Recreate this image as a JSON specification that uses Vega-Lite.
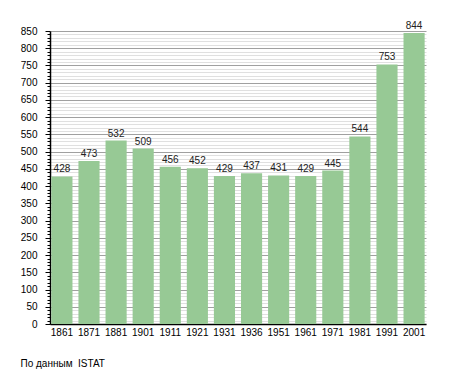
{
  "$schema": "https://vega.github.io/schema/vega-lite/v6.json",
  "autosize": "none",
  "width": 376,
  "height": 293,
  "padding": {"left": 50, "top": 31, "right": 29, "bottom": 49},
  "background": "white",
  "config": {"view": {"stroke": null}, "font": "Liberation Sans"},
  "data": {"values": [
    {"year": "1861", "pop": 428},
    {"year": "1871", "pop": 473},
    {"year": "1881", "pop": 532},
    {"year": "1901", "pop": 509},
    {"year": "1911", "pop": 456},
    {"year": "1921", "pop": 452},
    {"year": "1931", "pop": 429},
    {"year": "1936", "pop": 437},
    {"year": "1951", "pop": 431},
    {"year": "1961", "pop": 429},
    {"year": "1971", "pop": 445},
    {"year": "1981", "pop": 544},
    {"year": "1991", "pop": 753},
    {"year": "2001", "pop": 844}
  ]},
  "encoding": {
    "x": {"field": "year", "type": "ordinal", "sort": null,
      "scale": {"paddingInner": 0.22, "paddingOuter": 0.05},
      "axis": {"title": "По данным\u00a0 ISTAT", "titleAnchor": "start", "titleAlign": "left", "titleX": -30, "titleY": 34, "titleBaseline": "top", "titleFontSize": 10, "titleFontWeight": "normal", "titleColor": "#000", "titleFont": "Liberation Sans",
        "labelAngle": 0, "labelFontSize": 10, "labelColor": "#000", "labelPadding": 3, "ticks": false, "domainColor": "#000", "domainWidth": 1.5, "labelFont": "Liberation Sans"}},
    "y": {"field": "pop", "type": "quantitative",
      "scale": {"domain": [0, 850], "nice": false, "zero": true},
      "axis": {"title": null, "values": [0,10,20,30,40,50,60,70,80,90,100,110,120,130,140,150,160,170,180,190,200,210,220,230,240,250,260,270,280,290,300,310,320,330,340,350,360,370,380,390,400,410,420,430,440,450,460,470,480,490,500,510,520,530,540,550,560,570,580,590,600,610,620,630,640,650,660,670,680,690,700,710,720,730,740,750,760,770,780,790,800,810,820,830,840,850],
        "labelExpr": "datum.value % 50 === 0 ? datum.label : ''", "labelOverlap": false, "labelBound": false, "labelFlush": false,
        "labelFontSize": 10, "labelColor": "#000", "labelPadding": 8, "labelFont": "Liberation Sans",
        "tickSize": {"condition": {"test": "datum.value % 50 === 0", "value": 5}, "value": 3},
        "tickColor": "#000", "domainColor": "#000", "domainWidth": 1.5,
        "grid": true,
        "gridColor": {"condition": {"test": "datum.value % 50 === 0", "value": "#a0a0a0"}, "value": "#e0e0e0"},
        "gridWidth": 1}}
  },
  "layer": [
    {"mark": {"type": "bar", "color": "#97c995"}},
    {"mark": {"type": "text", "dy": -7, "fontSize": 10, "color": "#222", "font": "Liberation Sans"},
      "encoding": {"text": {"field": "pop", "type": "quantitative"}}}
  ]
}
